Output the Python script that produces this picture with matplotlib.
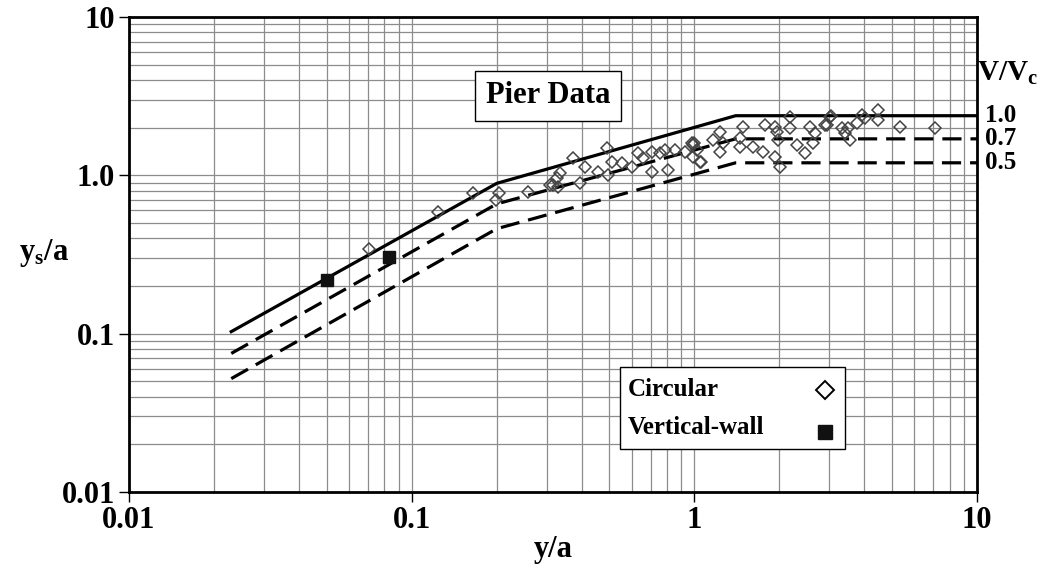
import numpy as np
import matplotlib
matplotlib.use("Agg")
import matplotlib.pyplot as plt
from matplotlib.patches import Rectangle
from matplotlib.ticker import FixedLocator, FixedFormatter, NullFormatter

plt.rcParams['font.family'] = ['Liberation Serif', 'DejaVu Serif']
plt.rcParams['font.weight'] = 'bold'
plt.rcParams['axes.labelweight'] = 'bold'
plt.rcParams['mathtext.fontset'] = 'custom'
plt.rcParams['mathtext.rm'] = 'Liberation Serif:bold'
plt.rcParams['mathtext.it'] = 'Liberation Serif:bold'
plt.rcParams['mathtext.bf'] = 'Liberation Serif:bold'

# envelope curves (y/a breakpoints, ys/a for each V/Vc)
curve_x = [0.023, 0.2, 1.4, 10.0]
curve_10 = [0.103, 0.89, 2.38, 2.38]
curve_07 = [0.075, 0.66, 1.70, 1.70]
curve_05 = [0.052, 0.46, 1.20, 1.20]
curve_labels = ['1.0', '0.7', '0.5']

# circular pier data
circ_x = [0.0706, 0.124, 0.165, 0.204, 0.199, 0.258, 0.308, 0.327,
          0.335, 0.372, 0.410, 0.394, 0.456, 0.491, 0.511, 0.555, 0.494,
          0.601, 0.631, 0.658, 0.708, 0.708, 0.755, 0.787, 0.807, 0.853,
          0.927, 0.98, 1.02, 0.99, 1.06, 0.316, 0.33,
          0.99, 1.0, 1.05, 1.16, 1.23, 1.23, 1.26, 1.45, 1.49, 1.45, 1.61,
          1.78, 1.75, 1.93, 1.96, 1.98, 1.93, 2.01, 2.18, 2.18, 2.31, 2.46,
          2.56, 2.63, 2.67, 2.90,
          2.94, 3.02, 3.05, 3.33, 3.41, 3.55, 3.49, 3.76, 3.92, 4.01, 4.46,
          4.46, 5.34, 7.10]
circ_y = [0.342, 0.586, 0.773, 0.773, 0.698, 0.78, 0.87, 0.96,
          1.03, 1.29, 1.13, 0.89, 1.05, 1.49, 1.21, 1.20, 1.00,
          1.13, 1.38, 1.29, 1.40, 1.05, 1.38, 1.44, 1.08, 1.44,
          1.40, 1.60, 1.44, 1.31, 1.21, 0.87, 0.84,
          1.55, 1.60, 1.21, 1.67, 1.88, 1.40, 1.60, 1.72, 2.02, 1.51, 1.51,
          2.08, 1.40, 2.02, 1.88, 1.67, 1.31, 1.13, 2.33, 1.99, 1.55, 1.38,
          2.02, 1.60, 1.85, 2.08,
          2.08, 2.33, 2.36, 1.99, 1.85, 1.67, 1.99, 2.14, 2.40, 2.30, 2.59,
          2.24, 2.02, 1.99]

# vertical-wall data
wall_x = [0.050, 0.083]
wall_y = [0.218, 0.305]

ticks = [0.01, 0.1, 1, 10]
xtick_labels = ['0.01', '0.1', '1', '10']
ytick_labels = ['0.01', '0.1', '1.0', '10']
legend_labels = ['Circular', 'Vertical-wall']

fig = plt.figure(figsize=(10.43, 5.71), dpi=100)
ax = fig.add_axes([0.1237, 0.1384, 0.813, 0.8318])
ax.set_xscale('log')
ax.set_yscale('log')
ax.set_xlim(0.01, 10)
ax.set_ylim(0.01, 10)

ax.grid(True, which='both', color='#8c8c8c', lw=0.9)
ax.set_axisbelow(True)

ax.plot(curve_x, curve_10, color='black', lw=2.3, zorder=3)
ax.plot(curve_x, curve_07, color='black', lw=2.3, dashes=(6, 2.8), zorder=3)
ax.plot(curve_x, curve_05, color='black', lw=2.3, dashes=(6, 2.8), zorder=3)

ax.plot(circ_x, circ_y, ls='none', marker='D', ms=6, mfc='none',
        mec='#444444', mew=1.1, zorder=4)
ax.plot(wall_x, wall_y, ls='none', marker='s', ms=8, color='#111111', zorder=5)

for yv, lab in zip([curve_10[-1], curve_07[-1], curve_05[-1]], curve_labels):
    ax.annotate(lab, xy=(10, yv), xytext=(6, 0), textcoords='offset points',
                va='center', ha='left', fontsize=18, annotation_clip=False)
ax.annotate('V/V$_c$', xy=(10, 4.4), xytext=(0, 0), textcoords='offset points',
            va='center', ha='left', fontsize=21, annotation_clip=False)

ax.text(0.494, 0.834, 'Pier Data', transform=ax.transAxes, ha='center',
        va='center', fontsize=22,
        bbox=dict(boxstyle='square,pad=0.35', fc='white', ec='black', lw=1.0),
        zorder=6)

# hand-made legend box (text left, marker right)
ax.add_patch(Rectangle((0.579, 0.0905), 0.265, 0.1725, transform=ax.transAxes,
                       fc='white', ec='black', lw=1.0, zorder=7))
ax.text(0.588, 0.215, legend_labels[0], transform=ax.transAxes, ha='left',
        va='center', fontsize=18, zorder=8)
ax.text(0.588, 0.135, legend_labels[1], transform=ax.transAxes, ha='left',
        va='center', fontsize=18, zorder=8)
ax.plot([0.821], [0.215], transform=ax.transAxes, marker='D', ms=9, mfc='none',
        mec='black', mew=1.4, ls='none', zorder=8, clip_on=False)
ax.plot([0.821], [0.127], transform=ax.transAxes, marker='s', ms=10,
        color='#111111', ls='none', zorder=8, clip_on=False)

ax.xaxis.set_major_locator(FixedLocator(ticks))
ax.xaxis.set_major_formatter(FixedFormatter(xtick_labels))
ax.yaxis.set_major_locator(FixedLocator(ticks))
ax.yaxis.set_major_formatter(FixedFormatter(ytick_labels))
ax.xaxis.set_minor_formatter(NullFormatter())
ax.yaxis.set_minor_formatter(NullFormatter())
ax.tick_params(which='major', length=7, width=1, labelsize=22, pad=3)
ax.tick_params(which='minor', length=0)

for s in ax.spines.values():
    s.set_linewidth(2.0)

ax.set_xlabel('y/a', fontsize=22, labelpad=0)
ax.set_ylabel('y$_s$/a', fontsize=22, rotation=0, labelpad=0)
ax.yaxis.set_label_coords(-0.1, 0.47)

fig.savefig('out.png', dpi=100)
